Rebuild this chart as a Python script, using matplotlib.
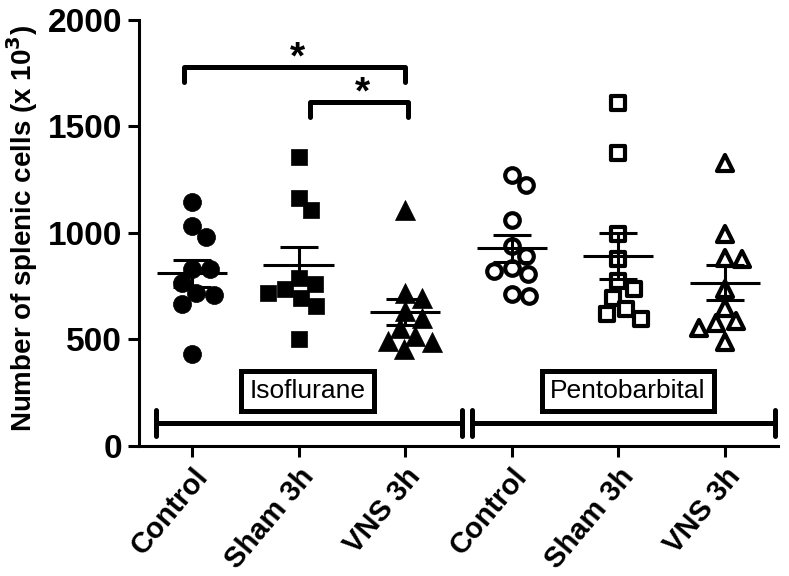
#!/bin/env python
import numpy as np
import matplotlib as mpl
mpl.use('Agg')
import matplotlib.pyplot as plt
from matplotlib.markers import MarkerStyle

plt.rcParams['font.family'] = ['Liberation Sans', 'DejaVu Sans']

# values (x 10^3 splenic cells)
groups = ['Control', 'Sham 3h', 'VNS 3h', 'Control', 'Sham 3h', 'VNS 3h']
iso_control = [1146, 1032, 982, 829, 829, 763, 717, 707, 665, 434]
iso_sham = [1357, 1165, 1107, 790, 760, 735, 720, 696, 656, 504]
iso_vns = [1110, 720, 697, 634, 603, 556, 517, 493, 486, 454]
pento_control = [1274, 1227, 1063, 938, 891, 837, 821, 806, 712, 704]
pento_sham = [1610, 1375, 993, 876, 774, 735, 696, 642, 618, 595]
pento_vns = [1329, 993, 884, 876, 735, 650, 587, 579, 556, 486]
anesthetics = ['Isoflurane', 'Pentobarbital']
yticks = [0, 500, 1000, 1500, 2000]

#*******************************************************************************
def swarm(ax, xc, values, diam_px):
    """
    simple beeswarm: push each point sideways until it clears the
    ones already placed (in pixel space)
    """
    tr = ax.transData
    placed = []
    xs = np.zeros(len(values))
    order = np.argsort(values)[::-1]
    for i in order:
        px, py = tr.transform((xc, values[i]))
        best = None
        for step in range(0, 200):
            for sgn in (1, -1):
                cand = px + sgn * step * 0.5
                ok = True
                for (qx, qy) in placed:
                    if (cand - qx) ** 2 + (py - qy) ** 2 < diam_px ** 2:
                        ok = False
                        break
                if ok:
                    best = cand
                    break
            if best is not None:
                break
        placed.append((best, py))
        xs[i] = tr.inverted().transform((best, py))[0]
    return xs

#*******************************************************************************
def do_action():
    fig = plt.figure(figsize=(7.89, 5.76), dpi=100)
    ax = fig.add_axes([0.176, 0.2257, 0.81, 0.7396])
    ax.set_xlim(-0.5, 5.5)
    ax.set_ylim(0, 2000)

    data = [iso_control, iso_sham, iso_vns, pento_control, pento_sham, pento_vns]
    styles = [('o', True, 13.0), ('s', True, 12.0), ('^', True, 14.0),
              ('o', False, 10.5), ('s', False, 10.0), ('^', False, 11.0)]
    for k, vals in enumerate(data):
        vals = np.array(vals, dtype=float)
        mk, filled, ms = styles[k]
        xs = swarm(ax, k, vals, 17.5)
        m = MarkerStyle(mk, joinstyle='round')
        if filled:
            ax.plot(xs, vals, linestyle='none', marker=m, markersize=ms,
                    markerfacecolor='black', markeredgecolor='black',
                    markeredgewidth=0.5, zorder=3)
        else:
            ax.plot(xs, vals, linestyle='none', marker=m, markersize=ms,
                    markerfacecolor='white', markeredgecolor='black',
                    markeredgewidth=3.0, zorder=3)
        mean = vals.mean()
        sem = vals.std(ddof=1) / np.sqrt(len(vals))
        ax.hlines(mean, k - 0.33, k + 0.33, color='black', lw=2.2, zorder=4)
        ax.errorbar(k, mean, yerr=sem, fmt='none', ecolor='black',
                    elinewidth=2.2, capsize=14, capthick=2.2, zorder=4)

    # group brackets along the bottom
    yb = 107
    for (x0, x1) in [(-0.34, 2.53), (2.625, 5.475)]:
        ax.plot([x0, x1], [yb, yb], color='black', lw=3.6, solid_capstyle='round')
        for xe in (x0, x1):
            ax.plot([xe, xe], [yb - 60, yb + 60], color='black', lw=3.6,
                    solid_capstyle='round')
    for name, xc in zip(anesthetics, [1.08, 4.09]):
        ax.text(xc, 258, name, ha='center', va='center', fontsize=19,
                bbox=dict(boxstyle='square,pad=0.32', fc='white', ec='black', lw=3.6))

    # significance brackets
    for (x0, x1, yl) in [(-0.08, 2.0, 1781), (1.11, 2.03, 1616)]:
        ax.plot([x0, x0, x1, x1], [yl - 70, yl, yl, yl - 70], color='black',
                lw=3.6, solid_capstyle='round', solid_joinstyle='round')
        ax.text((x0 + x1) / 2 + 0.03, yl - 8, '*', ha='center', va='baseline',
                fontsize=28, fontweight='bold')

    for s in ['top', 'right']:
        ax.spines[s].set_visible(False)
    for s in ['left', 'bottom']:
        ax.spines[s].set_linewidth(2.2)
    ax.set_yticks(yticks)
    ax.set_yticklabels([str(v) for v in yticks], fontsize=24, fontweight='bold')
    ax.set_xticks(range(len(groups)))
    ax.set_xticklabels(groups, fontsize=21, fontweight='bold', rotation=50,
                       ha='right', rotation_mode='anchor')
    ax.tick_params(axis='both', direction='out', length=8, width=2.2, pad=4)
    ax.set_ylabel('Number of splenic cells (x 10$^{\\mathbf{3}}$)', fontsize=20,
                  fontweight='bold')
    ax.yaxis.set_label_coords(-0.155, 0.51)

    plt.savefig('out.png', dpi=100)

#*******************************************************************************

if __name__ == "__main__":
    do_action()
